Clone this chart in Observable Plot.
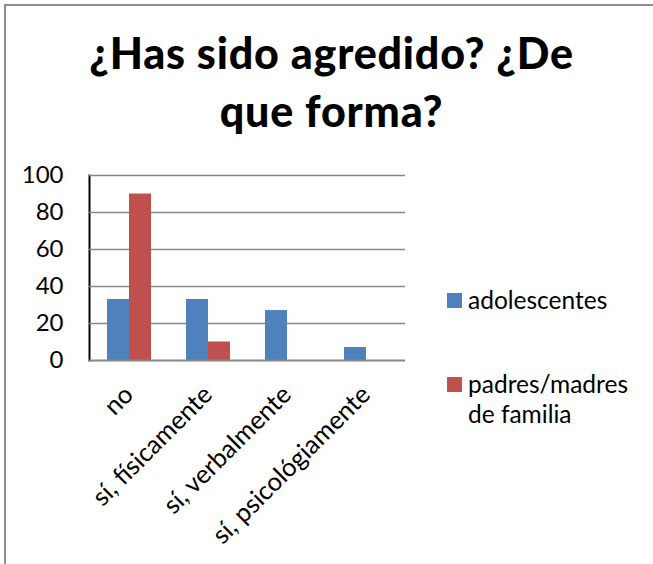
<!DOCTYPE html>
<html>
<head>
<meta charset="utf-8">
<script src="https://cdn.jsdelivr.net/npm/d3@7"></script>
<script src="https://cdn.jsdelivr.net/npm/@observablehq/plot@0.6"></script>
<style>
  html, body { margin: 0; padding: 0; background: #fff; }
  #wrap { position: relative; width: 653px; height: 564px; overflow: hidden; font-family: Lato, "Open Sans", sans-serif; }
  #border { position: absolute; left: 4px; top: 4px; width: 700px; height: 700px; border-left: 2px solid #8e8e8e; border-top: 2px solid #8e8e8e; box-sizing: border-box; }
  #title { position: absolute; left: 10px; width: 643px; top: 24px; text-align: center; font-weight: 900; font-size: 43px; letter-spacing: 0.8px; line-height: 58px; color: #000; }
  #chart { position: absolute; left: 0; top: 150px; }
  .leg { position: absolute; left: 447px; font-size: 24.5px; line-height: 30px; color: #000; }
  .sw { position: absolute; left: 0; top: 8px; width: 15px; height: 15px; }
  .lt { margin-left: 21px; }
</style>
</head>
<body>
<div id="wrap">
  <div id="border"></div>
  <div id="title">¿Has sido agredido? ¿De<br>que forma?</div>
  <div id="chart"></div>
  <div id="legend"></div>
</div>
<script>
const categories = ["no", "sí, físicamente", "sí, verbalmente", "sí, psicológiamente"];
const seriesNames = ["adolescentes", "padres/madres de familia"];
const adolescentes = [33, 33, 27, 7];
const padres = [90, 10, 0, 0];
const seriesColors = ["#4F81BD", "#C0504D"];
const yTicks = [0, 20, 40, 60, 80, 100];

const table = [];
categories.forEach((c, i) => {
  table.push({cat: c, series: seriesNames[0], value: adolescentes[i]});
  table.push({cat: c, series: seriesNames[1], value: padres[i]});
});

const plot = Plot.plot({
  width: 653,
  height: 414,
  marginTop: 25,
  marginBottom: 204,
  marginLeft: 88,
  marginRight: 248,
  style: {fontFamily: "Lato, 'Open Sans', sans-serif", fontSize: "24px", color: "#000", background: "transparent", overflow: "visible"},
  fx: {domain: categories, padding: 0, axis: "bottom", label: null, tickRotate: -45, tickSize: 0, tickPadding: 30},
  x: {domain: seriesNames, paddingInner: 0, paddingOuter: 0.75, axis: null},
  y: {domain: [0, 100], ticks: yTicks, tickSize: 0, tickPadding: 26, label: null, line: true},
  color: {domain: seriesNames, range: seriesColors},
  marks: [
    Plot.ruleY(yTicks.filter(d => d > 0), {stroke: "#878787", strokeWidth: 1.5}),
    Plot.barY(table, {fx: "cat", x: "series", y: "value", fill: "series"}),
    Plot.ruleY([0], {stroke: "#878787", strokeWidth: 2})
  ]
});
plot.querySelectorAll("[aria-label='y-axis line'], [aria-label='frame']").forEach(e => { e.setAttribute("stroke", "#878787"); e.setAttribute("stroke-width", "2"); });
plot.querySelectorAll("[aria-label='fx-axis tick label']").forEach(e => e.setAttribute("font-size", "25.5"));
document.getElementById("chart").appendChild(plot);

const legend = document.getElementById("legend");
const legTops = [285, 369];
seriesNames.forEach((s, i) => {
  const d = document.createElement("div");
  d.className = "leg";
  d.style.top = legTops[i] + "px";
  const sw = document.createElement("div");
  sw.className = "sw";
  sw.style.background = seriesColors[i];
  d.appendChild(sw);
  const t = document.createElement("div");
  t.className = "lt";
  t.innerHTML = i === 1 ? "padres/madres<br>de familia" : s;
  d.appendChild(t);
  legend.appendChild(d);
});
</script>
</body>
</html>
